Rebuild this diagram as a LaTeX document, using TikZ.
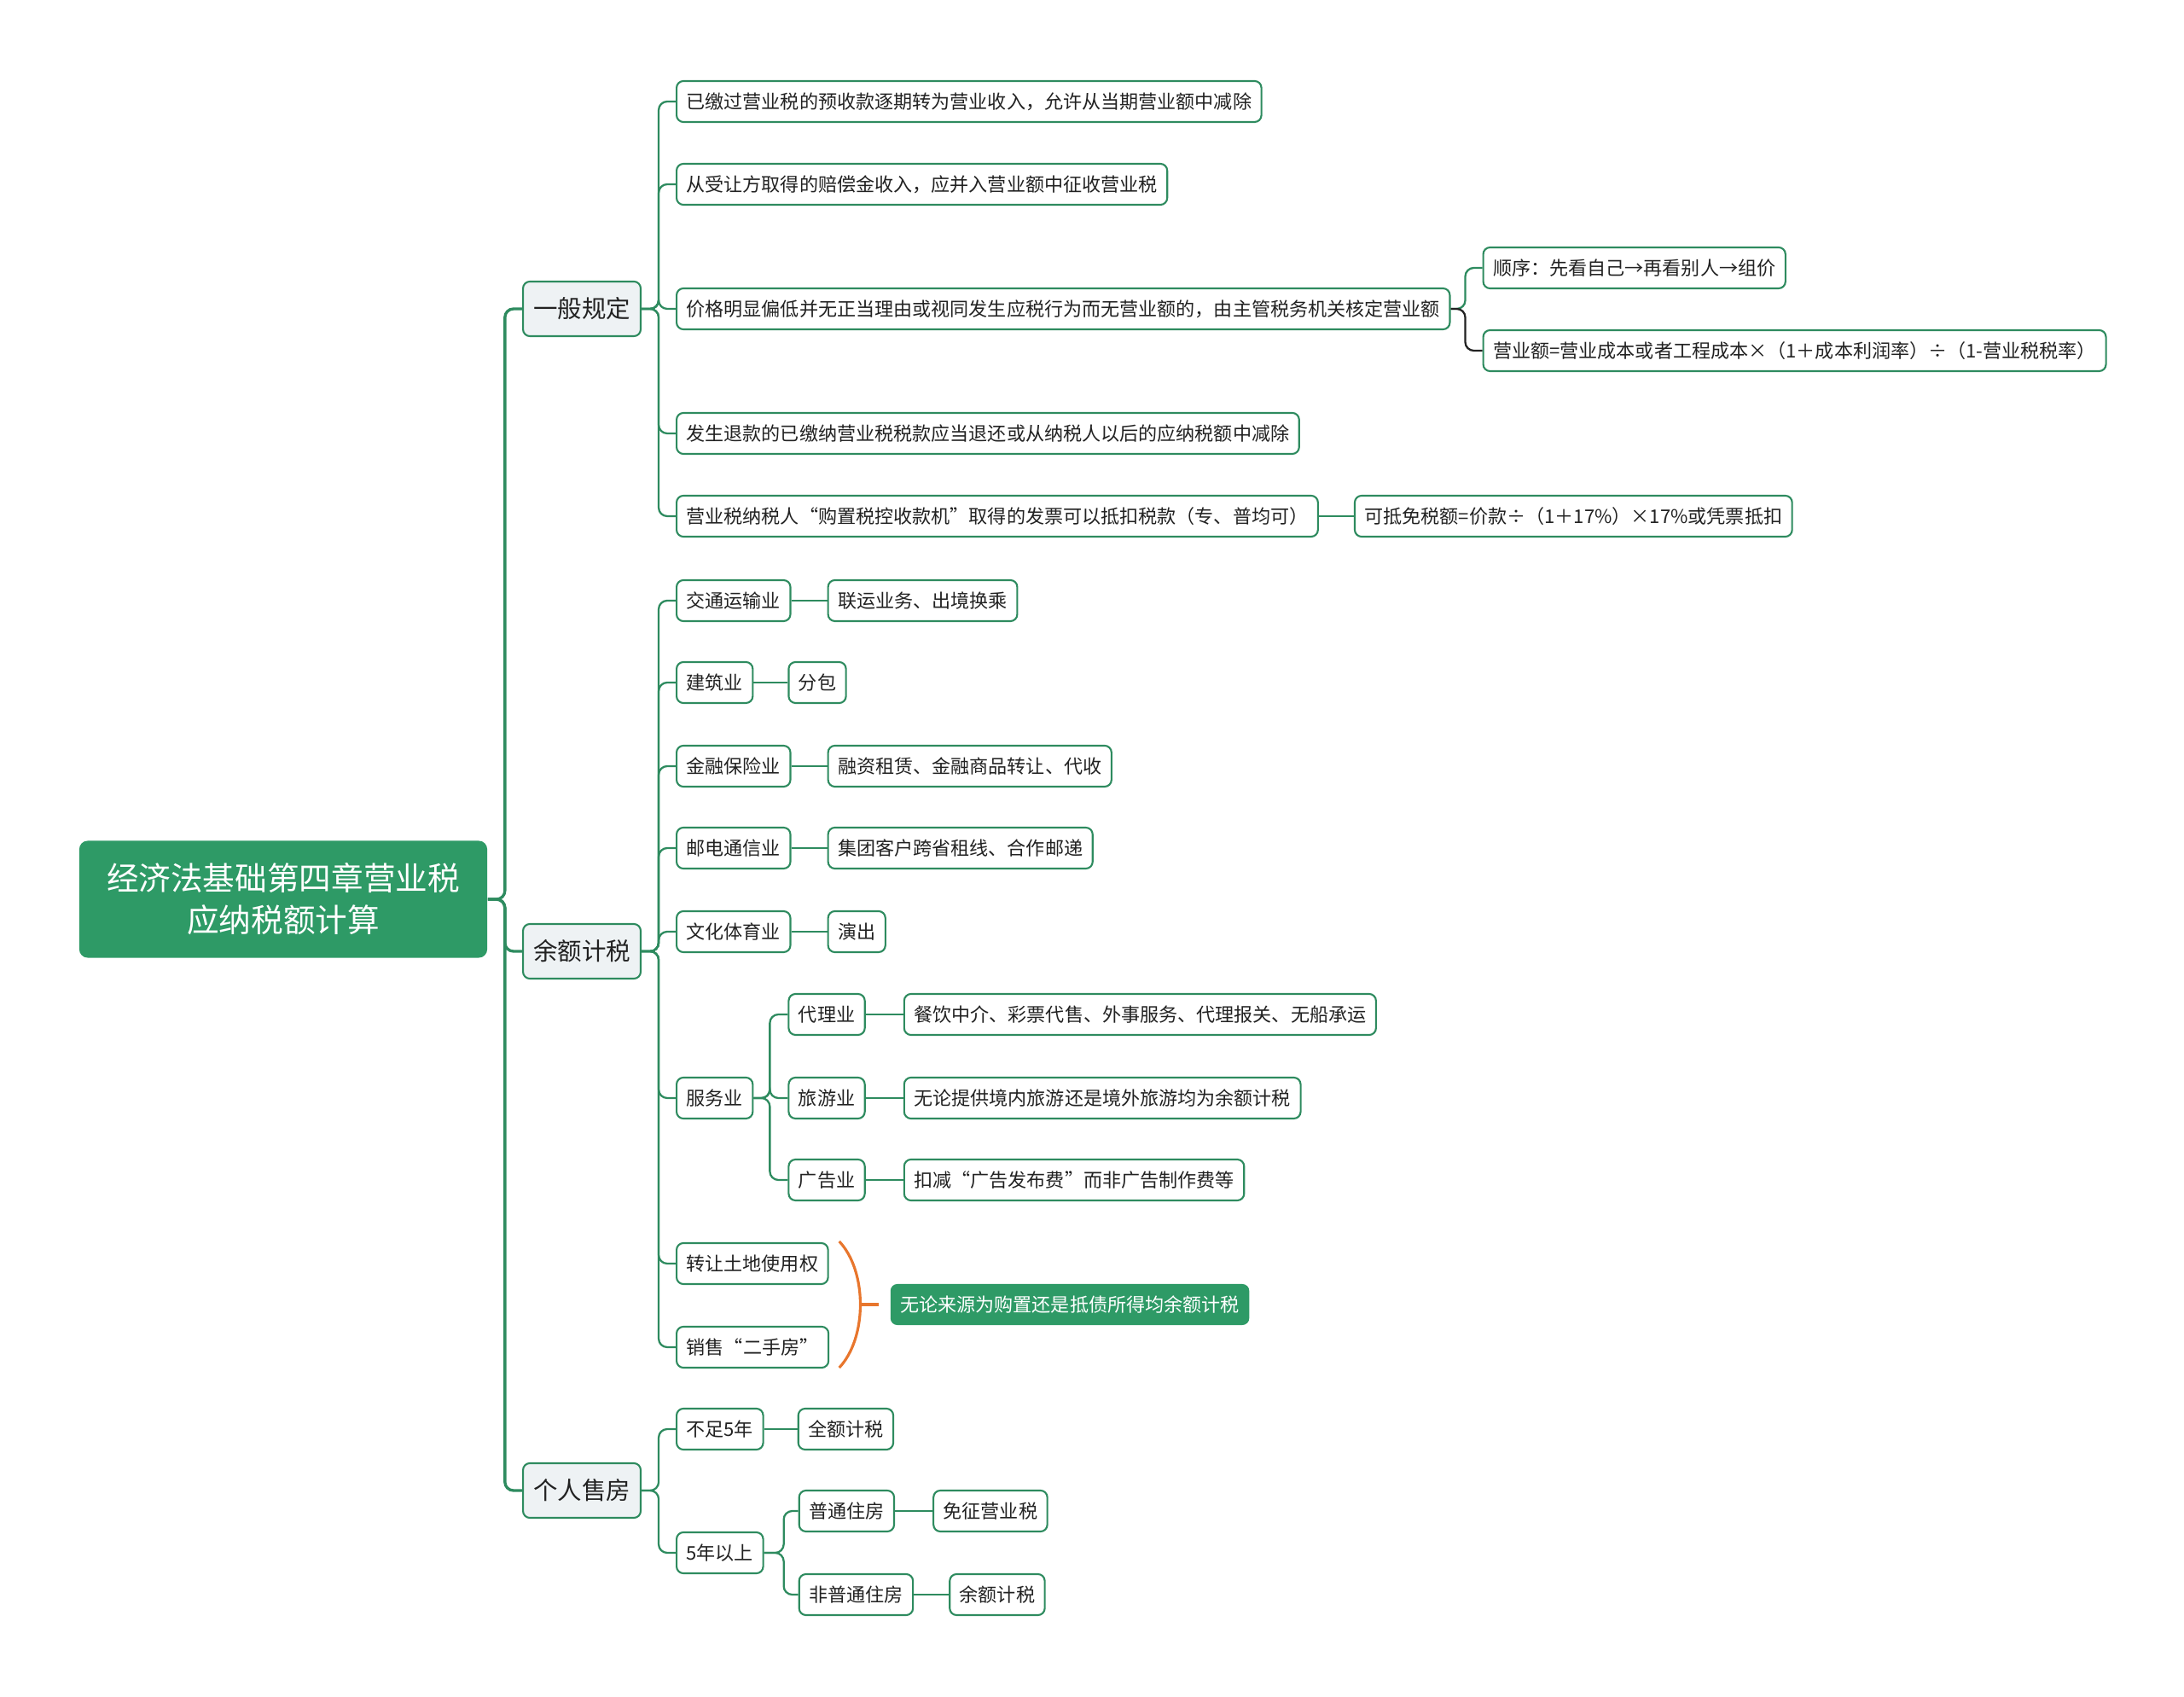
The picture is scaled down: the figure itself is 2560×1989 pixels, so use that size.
\documentclass[tikz,border=0pt]{standalone}
\usepackage{fontspec}
\setmainfont{Noto Sans CJK SC}
\usetikzlibrary{positioning,calc}

\definecolor{mapgreen}{HTML}{2E8B5F}
\definecolor{rootgreen}{HTML}{2E9A66}
\definecolor{topicgray}{HTML}{EEF2F4}
\definecolor{braceorange}{HTML}{E8762D}
\definecolor{inkdark}{HTML}{222222}

\tikzset{
  leaf/.style={draw=mapgreen, line width=0.6pt, rounded corners=0.08cm, fill=white,
    text=inkdark, font=\fontsize{6.28pt}{7pt}\selectfont, inner xsep=0.115cm,
    inner ysep=0pt, minimum height=0.48cm, anchor=west},
  topic/.style={leaf, fill=topicgray, font=\fontsize{8.1pt}{9pt}\selectfont,
    minimum height=0.64cm, inner xsep=0.12cm},
  rootbox/.style={fill=rootgreen, rounded corners=0.1cm, text=white, align=center,
    font=\fontsize{10.7pt}{13.9pt}\selectfont, minimum width=4.78cm,
    minimum height=1.37cm},
  notebox/.style={leaf, draw=none, fill=rootgreen, text=white},
  link/.style={draw=mapgreen, line width=0.65pt, rounded corners=0.1cm},
  trunk/.style={link, line width=0.95pt},
  brace/.style={draw=braceorange, line width=0.9pt},
}

\begin{document}
\begin{tikzpicture}[x=0.01cm, y=-0.01cm]
\useasboundingbox (0,0) rectangle (2560,1989);

% 中心主题
\node[rootbox] (root) at (332,1054) {经济法基础第四章营业税\\应纳税额计算};

% 一级分支
\node[topic] (gen)  at (612,362)  {一般规定};
\node[topic] (bal)  at (612,1115) {余额计税};
\node[topic] (home) at (612,1747) {个人售房};
\foreach \t in {gen,bal,home}
  \draw[trunk] (root.east) -- ++(20,0) |- (\t.west);

% 一般规定
\node[leaf] (gen1) at (792,119) {已缴过营业税的预收款逐期转为营业收入，允许从当期营业额中减除};
\node[leaf] (gen2) at (792,216) {从受让方取得的赔偿金收入，应并入营业额中征收营业税};
\node[leaf] (gen3) at (792,362) {价格明显偏低并无正当理由或视同发生应税行为而无营业额的，由主管税务机关核定营业额};
\node[leaf] (gen4) at (792,508) {发生退款的已缴纳营业税税款应当退还或从纳税人以后的应纳税额中减除};
\node[leaf] (gen5) at (792,605) {营业税纳税人“购置税控收款机”取得的发票可以抵扣税款（专、普均可）};
\foreach \c in {gen1,gen2,gen3,gen4,gen5}
  \draw[link] (gen.east) -- ++(20,0) |- (\c.west);

\node[leaf] (gen3a) at ($(gen3.east)+(37,-48)$) {顺序：先看自己→再看别人→组价};
\node[leaf] (gen3b) at ($(gen3.east)+(37,49)$) {营业额=营业成本或者工程成本×（1＋成本利润率）÷（1-营业税税率）};
\draw[link] (gen3.east) -- ++(17,0) |- (gen3a.west);
\draw[link, draw=inkdark] (gen3.east) -- ++(17,0) |- (gen3b.west);

\node[leaf] (gen5a) [right=0.41cm of gen5] {可抵免税额=价款÷（1＋17\%）×17\%或凭票抵扣};
\draw[link] (gen5) -- (gen5a);

% 余额计税
\node[leaf] (bal1) at (792,704)  {交通运输业};
\node[leaf] (bal2) at (792,800)  {建筑业};
\node[leaf] (bal3) at (792,898)  {金融保险业};
\node[leaf] (bal4) at (792,994)  {邮电通信业};
\node[leaf] (bal5) at (792,1092) {文化体育业};
\node[leaf] (bal6) at (792,1287) {服务业};
\node[leaf] (bal7) at (792,1481) {转让土地使用权};
\node[leaf, minimum width=1.78cm] (bal8) at (792,1579) {销售“二手房”};
\foreach \c in {bal1,bal2,bal3,bal4,bal5,bal6,bal7,bal8}
  \draw[link] (bal.east) -- ++(20,0) |- (\c.west);

\node[leaf] (bal1a) [right=0.42cm of bal1] {联运业务、出境换乘};
\node[leaf] (bal2a) [right=0.40cm of bal2] {分包};
\node[leaf] (bal3a) [right=0.42cm of bal3] {融资租赁、金融商品转让、代收};
\node[leaf] (bal4a) [right=0.42cm of bal4] {集团客户跨省租线、合作邮递};
\node[leaf] (bal5a) [right=0.42cm of bal5] {演出};
\foreach \c in {bal1,bal2,bal3,bal4,bal5}
  \draw[link] (\c) -- (\c a);

% 服务业
\node[leaf] (svc1) at ($(bal6.east)+(40,-98)$) {代理业};
\node[leaf] (svc2) at ($(bal6.east)+(40,0)$)   {旅游业};
\node[leaf] (svc3) at ($(bal6.east)+(40,96)$)  {广告业};
\foreach \c in {svc1,svc2,svc3}
  \draw[link] (bal6.east) -- ++(19,0) |- (\c.west);
\node[leaf] (svc1a) [right=0.44cm of svc1] {餐饮中介、彩票代售、外事服务、代理报关、无船承运};
\node[leaf] (svc2a) [right=0.44cm of svc2] {无论提供境内旅游还是境外旅游均为余额计税};
\node[leaf] (svc3a) [right=0.44cm of svc3] {扣减“广告发布费”而非广告制作费等};
\foreach \c in {svc1,svc2,svc3}
  \draw[link] (\c) -- (\c a);

% 概要
\coordinate (brtop) at ($(bal7.east)+(12,-26)$);
\coordinate (brbot) at ($(bal7.east)+(12,122)$);
\coordinate (brmid) at ($(brtop)!.5!(brbot)+(25,0)$);
\node[notebox] (note) at ($(bal7.east)+(71,48)$) {无论来源为购置还是抵债所得均余额计税};
\draw[brace] (brtop) .. controls +(33,35) and +(33,-35) .. (brbot);
\draw[brace] (brmid) -- ([xshift=-0.13cm]note.west);

% 个人售房
\node[leaf] (home1) at (792,1675) {不足5年};
\node[leaf] (home2) at (792,1820) {5年以上};
\foreach \c in {home1,home2}
  \draw[link] (home.east) -- ++(20,0) |- (\c.west);
\node[leaf] (home1a) [right=0.39cm of home1] {全额计税};
\draw[link] (home1) -- (home1a);

\node[leaf] (home2a) at ($(home2.east)+(40,-49)$) {普通住房};
\node[leaf] (home2b) at ($(home2.east)+(40,49)$)  {非普通住房};
\foreach \c in {home2a,home2b}
  \draw[link] (home2.east) -- ++(23,0) |- (\c.west);
\node[leaf] (home2a1) [right=0.44cm of home2a] {免征营业税};
\node[leaf] (home2b1) [right=0.41cm of home2b] {余额计税};
\draw[link] (home2a) -- (home2a1);
\draw[link] (home2b) -- (home2b1);
\end{tikzpicture}
\end{document}
